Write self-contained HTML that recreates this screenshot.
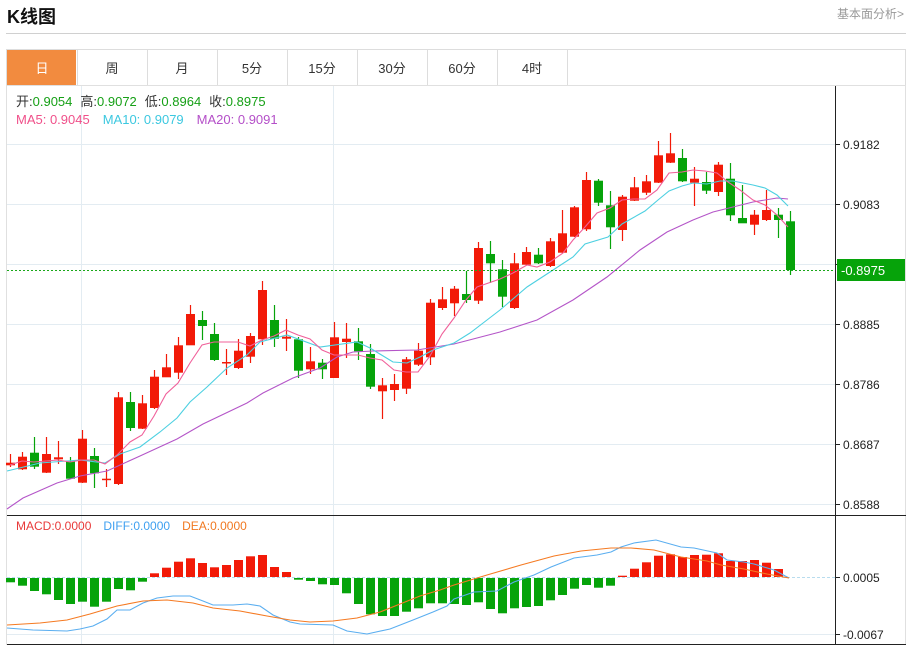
<!DOCTYPE html>
<html><head><meta charset="utf-8">
<style>
body{margin:0;width:908px;height:646px;background:#fff;font-family:"Liberation Sans","Noto Sans CJK SC",sans-serif;overflow:hidden;position:relative}
.t{position:absolute;white-space:nowrap}
</style></head><body>
<div class="t" style="left:7px;top:3px;font-size:18px;font-weight:bold;color:#111">K线图</div>
<div class="t" style="right:4px;top:5px;font-size:12px;color:#999">基本面分析&gt;</div>
<div style="position:absolute;left:6px;top:33px;width:900px;height:1px;background:#d0d0d0"></div>
<svg width="908" height="646" style="position:absolute;left:0;top:0" id="s" xmlns="http://www.w3.org/2000/svg"></svg>
<script>
var s=document.getElementById('s'),h='';
h+='<rect x="6.5" y="49.5" width="899" height="36" fill="none" stroke="#ddd"/>';
h+='<rect x="7" y="50" width="69" height="35" fill="#f28b3f"/>';
var tabs=['日','周','月','5分','15分','30分','60分','4时'];
for(var i=0;i<8;i++){var x=7+i*70;h+='<line x1="'+(x+70.5)+'" y1="50" x2="'+(x+70.5)+'" y2="85" stroke="#ddd"/>';
h+='<text x="'+(x+35)+'" y="73" font-size="13" text-anchor="middle" fill="'+(i==0?'#fff':'#333')+'" font-family="Liberation Sans,Noto Sans CJK SC,sans-serif">'+tabs[i]+'</text>';}
h+='<rect x="6.5" y="85.5" width="899" height="559" fill="none" stroke="#e0e0e0"/>';
var py=[144,204,264,324,384,444,504],pl=['0.9182','0.9083','0.8984','0.8885','0.8786','0.8687','0.8588'];
py.forEach(function(y){h+='<line x1="7" y1="'+(y+.5)+'" x2="835" y2="'+(y+.5)+'" stroke="#e3ecf2"/>';});
[81,333].forEach(function(x){h+='<line x1="'+(x+.5)+'" y1="86" x2="'+(x+.5)+'" y2="644" stroke="#e3ecf2"/>';});
h+='<line x1="7" y1="634.5" x2="835" y2="634.5" stroke="#e3ecf2"/>';
h+='<line x1="7" y1="577.5" x2="835" y2="577.5" stroke="#b8dcee" stroke-dasharray="3,2"/>';
h+='<line x1="835.5" y1="86" x2="835.5" y2="644" stroke="#222"/>';
h+='<line x1="7" y1="515.5" x2="906" y2="515.5" stroke="#222"/>';
h+='<line x1="7" y1="644.5" x2="906" y2="644.5" stroke="#222"/>';
py.forEach(function(y,k){h+='<line x1="835" y1="'+(y+.5)+'" x2="840" y2="'+(y+.5)+'" stroke="#222"/><text x="843" y="'+(y+5)+'" font-size="12" fill="#222" font-family="Liberation Sans,sans-serif">'+pl[k]+'</text>';});
[[577,'0.0005'],[634,'-0.0067']].forEach(function(a){h+='<line x1="835" y1="'+(a[0]+.5)+'" x2="840" y2="'+(a[0]+.5)+'" stroke="#222"/><text x="843" y="'+(a[0]+5)+'" font-size="12" fill="#222" font-family="Liberation Sans,sans-serif">'+a[1]+'</text>';});
var C=[[462.7,465.3,454,467,1],[456.7,469.3,452,470,1],[452.7,466.7,437,469,0],[454,472.7,437,473,1],[457.3,459.3,441,464,1],[461.3,478.7,457,479,0],[438.7,482.7,430,483,1],[456,473.3,448,488,0],[478.7,480,469,487,1],[397.3,484,392,485,1],[402,428,392,431,0],[403.3,428.7,395,429,1],[376.7,408,370,409,1],[367.3,377.3,354,377,1],[345.3,372.7,337,379,1],[314,345.3,305,345,1],[320,326,311,340,0],[334,360,323,361,0],[362,363.3,349,375,1],[350.7,368,339,369,1],[336,356.7,333,363,1],[290,339.3,281,345,1],[320,338.7,305,347,0],[336.7,338.7,319,351,1],[339.3,370.7,337,378,0],[361.3,369.3,347,374,1],[362.7,369.3,359,379,0],[337.3,378,322,378,1],[338.7,342,323,358,1],[341.3,351.3,328,360,0],[354,386.7,344,389,0],[385.3,391.3,378,419,1],[384,390,374,401,1],[359.3,388.7,357,394,1],[350.7,364.7,343,366,1],[302.7,357.3,299,365,1],[299.3,308,287,310,1],[288.7,303.3,286,316,1],[294,300,271,303,0],[248,300.7,242,304,1],[254,263.3,241,283,0],[269.3,296.7,260,307,0],[263.3,308,253,309,1],[252,264.7,247,265,1],[254.7,263.3,248,264,0],[241.3,266,238,267,1],[233.3,252.7,210,253,1],[207.3,236.7,206,237,1],[180,229.3,172,231,1],[180.7,202.7,179,206,0],[205.3,227.3,191,249,0],[196.7,230,195,241,1],[187.3,200.7,177,201,1],[181.3,192.7,175,195,1],[155.3,182.7,141,183,1],[153.3,162.7,133,163,1],[158,181.3,149,182,0],[178.7,182.7,167,206,1],[182,190.7,172,194,0],[164.7,192,162,196,1],[178.7,215.3,163,221,0],[218,223.3,185,223,0],[214.7,224.7,210,235,1],[210,220,190,221,1],[214.7,220,208,238,0],[221.3,270,211,275,0]];
var R='#f21a08',G='#06a30a';
C.forEach(function(c,i){var x=10.5+12*i,col=c[4]?R:G;
h+='<line x1="'+x+'" y1="'+c[2]+'" x2="'+x+'" y2="'+c[3]+'" stroke="'+col+'" stroke-width="1.2"/>';
h+='<rect x="'+(x-4.5)+'" y="'+c[0]+'" width="9" height="'+Math.max(1.5,c[1]-c[0])+'" fill="'+col+'"/>';});
function pl2(p,col){return '<polyline fill="none" stroke="'+col+'" stroke-width="1.1" points="'+p+'"/>';}
h+=pl2('7,509 23,498 57,483 80,476 107,471 140,456 177,439 203,424 247,403 263,393 293,378 320,368 337,357 353,352 373,351 417,350 454,344 500,332 537,320 573,300 607,277 640,250 667,232 693,220 713,212 733,207 753,202 777,198 788,199','#b455c8');
h+=pl2('7,471 40,463 80,460 105,463 120,454 140,447 160,432 177,418 190,402 207,387 227,368 247,355 260,342 287,335 320,347 357,342 370,348 393,362 407,363 420,357 433,350 454,343 470,333 487,320 500,310 527,287 550,272 573,257 585,244 608,237 622,224 645,211 658,200 669,191 682,186 693,183 707,184 720,181 733,181 753,185 765,188 777,195 788,206','#4dd0e1');
h+=pl2('10,465 22,461 34,462 46,461 58,460 70,462 82,460 94,460 105,464 117,455 130,442 142,435 154,416 166,394 178,383 190,363 202,345 214,342 226,342 238,342 250,346 262,340 274,336 286,330 298,335 310,339 322,350 334,355 346,355 358,355 370,358 382,360 394,370 406,372 418,372 430,356 442,334 454,318 466,300 477,287 500,279 513,273 527,265 537,267 550,262 563,253 573,240 585,227 597,213 610,208 622,200 633,199 645,199 657,190 669,173 682,172 693,170 705,171 717,173 728,182 740,190 753,200 765,205 777,215 788,227','#f0609a');
h+='<line x1="7" y1="270.5" x2="835" y2="270.5" stroke="#1aa81a" stroke-dasharray="2,2"/>';
h+='<rect x="837" y="259" width="68" height="22" fill="#06a30a"/><text x="841" y="275" font-size="13" fill="#fff" font-family="Liberation Sans,sans-serif">-0.8975</text>';
var M=[582.3,585.7,591,594.3,600,604,601.7,606.7,601.7,589,590.3,581.7,573.3,567.7,561.7,558.3,563,567.3,565,560,556.3,555,567,572,579.7,581,584.3,585,593.3,604,614.3,616,616,611.7,608.3,603.3,603.3,604,605,602.3,609,613.3,608.3,607,606,600.3,595,588.7,585,587.7,585.7,575.7,568.7,562.3,555.7,554.3,557,555,554.7,553.3,561,561,560,562.7,569];
M.forEach(function(v,i){var x=10.5+12*i-4.5;if(v>577)h+='<rect x="'+x+'" y="578" width="9" height="'+(v-578)+'" fill="'+G+'"/>';else h+='<rect x="'+x+'" y="'+v+'" width="9" height="'+(577-v)+'" fill="'+R+'"/>';});
h+=pl2('7,628 33,630 67,631 80,629 93,626 107,619 117,610 130,610 143,603 157,598 173,596 190,596 203,601 213,605 233,605 247,604 260,606 273,615 290,622 300,624 333,625 347,631 367,634 390,629 413,620 433,612 447,606 454,599 474,592 497,591 514,582 534,575 551,567 574,558 597,555 611,552 621,547 634,543 656,540 681,547 694,548 717,553 727,560 744,562 754,564 774,570 789,578','#5aaef0');
h+=pl2('7,625 40,623 67,620 90,614 117,606 143,601 167,600 193,603 213,608 240,611 267,616 290,620 310,622 333,621 357,618 380,612 400,604 420,596 440,590 454,585 487,575 521,565 554,556 581,551 611,548 631,548 654,550 681,557 707,561 721,565 744,569 767,574 789,578','#f57a22');
var F='font-family="Liberation Sans,Noto Sans CJK SC,sans-serif"';
h+='<text x="16" y="106" font-size="13" '+F+'><tspan fill="#333">开:</tspan><tspan fill="#16a016">0.9054</tspan><tspan fill="#333" dx="8">高:</tspan><tspan fill="#16a016">0.9072</tspan><tspan fill="#333" dx="8">低:</tspan><tspan fill="#16a016">0.8964</tspan><tspan fill="#333" dx="8">收:</tspan><tspan fill="#16a016">0.8975</tspan></text>';
h+='<text x="16" y="124" font-size="13" '+F+'><tspan fill="#f0508a">MA5: 0.9045</tspan><tspan fill="#3cc8e0" dx="13">MA10: 0.9079</tspan><tspan fill="#b44fc8" dx="13">MA20: 0.9091</tspan></text>';
h+='<text x="16" y="530" font-size="12" '+F+'><tspan fill="#e83a3a">MACD:0.0000</tspan><tspan fill="#3fa0f0" dx="12">DIFF:0.0000</tspan><tspan fill="#f07820" dx="12">DEA:0.0000</tspan></text>';
s.innerHTML=h;
</script>
</body></html>
